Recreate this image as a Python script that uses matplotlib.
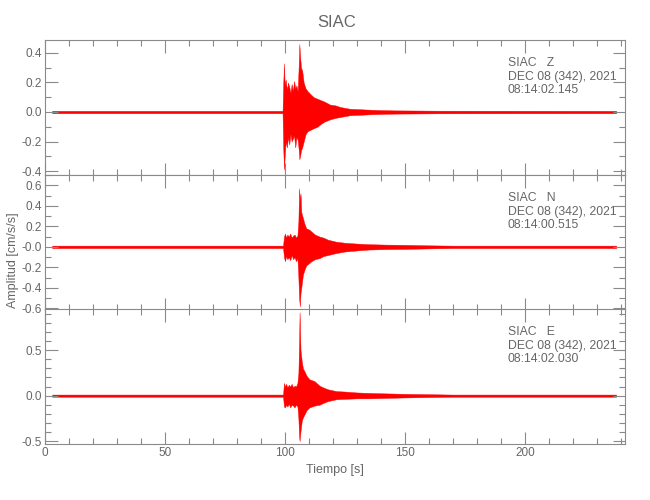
"""SIAC accelerogram, three components, redrawn from read-off envelopes."""

import matplotlib

matplotlib.use("Agg")
import matplotlib.pyplot as plt
from matplotlib.ticker import FixedFormatter, FixedLocator, MultipleLocator

plt.rcParams["font.family"] = ["Liberation Sans", "DejaVu Sans"]

STATION = "SIAC"
COMPONENTS = ["Z", "N", "E"]
DATE_LABEL = "DEC 08 (342), 2021"
START_TIMES = ["08:14:02.145", "08:14:00.515", "08:14:02.030"]
T_END = 241.7

# envelope of each trace (time in s, upper and lower amplitude in cm/s/s)
z_time = [3.0, 99.0, 99.3, 99.6, 99.9, 100.3, 100.8, 101.3, 101.8, 102.3, 102.8, 103.3, 103.8,
          104.3, 104.8, 105.3, 105.7, 106.0, 106.3, 106.7, 107.2, 107.8, 108.6, 109.5, 110.7,
          112.0, 113.5, 115.0, 116.5, 118.8, 121.0, 123.0, 127.0, 131.0, 135.0, 140.0, 146.0,
          155.0, 164.0, 238.0]
z_upper = [0.008, 0.008, 0.20, 0.33, 0.18, 0.22, 0.15, 0.20, 0.17, 0.13, 0.19, 0.14, 0.21,
           0.16, 0.18, 0.14, 0.30, 0.46, 0.38, 0.30, 0.28, 0.20, 0.16, 0.14, 0.12,
           0.10, 0.09, 0.08, 0.07, 0.05, 0.045, 0.034, 0.022, 0.019, 0.016, 0.013, 0.011,
           0.010, 0.009, 0.008]
z_lower = [-0.008, -0.008, -0.25, -0.39, -0.30, -0.20, -0.24, -0.17, -0.22, -0.15, -0.20, -0.18, -0.16,
           -0.24, -0.17, -0.19, -0.25, -0.32, -0.30, -0.26, -0.24, -0.20, -0.15, -0.13, -0.12,
           -0.11, -0.10, -0.08, -0.065, -0.05, -0.04, -0.034, -0.022, -0.019, -0.016, -0.013, -0.011,
           -0.010, -0.009, -0.008]

n_time = [3.0, 99.2, 99.6, 100.0, 100.5, 101.0, 101.6, 102.2, 102.8, 103.4, 104.0, 104.6, 105.2,
          105.6, 105.9, 106.2, 106.5, 106.8, 107.5, 108.2, 108.9, 110.0, 111.0, 112.5, 114.4,
          116.0, 117.9, 121.4, 125.0, 130.0, 135.0, 142.0, 150.0, 160.0, 170.0, 238.0]
n_upper = [0.012, 0.012, 0.10, 0.13, 0.09, 0.12, 0.10, 0.13, 0.09, 0.11, 0.12, 0.09, 0.11,
           0.25, 0.57, 0.45, 0.52, 0.34, 0.28, 0.22, 0.18, 0.17, 0.15, 0.12, 0.10,
           0.09, 0.07, 0.05, 0.04, 0.032, 0.026, 0.022, 0.02, 0.015, 0.012, 0.012]
n_lower = [-0.012, -0.012, -0.10, -0.14, -0.09, -0.12, -0.10, -0.13, -0.08, -0.12, -0.10, -0.14, -0.11,
           -0.30, -0.50, -0.58, -0.45, -0.40, -0.27, -0.22, -0.18, -0.16, -0.14, -0.12, -0.11,
           -0.09, -0.08, -0.06, -0.045, -0.035, -0.026, -0.022, -0.02, -0.015, -0.012, -0.012]

e_time = [3.0, 99.2, 99.6, 100.0, 100.5, 101.0, 101.6, 102.2, 102.8, 103.4, 104.0, 104.6, 105.2,
          105.6, 105.9, 106.1, 106.5, 107.0, 107.5, 108.1, 109.0, 110.2, 112.3, 114.4, 116.0,
          117.9, 121.4, 125.0, 130.0, 135.0, 142.0, 150.0, 160.0, 170.0, 238.0]
e_upper = [0.012, 0.012, 0.14, 0.10, 0.13, 0.09, 0.12, 0.10, 0.13, 0.09, 0.11, 0.10, 0.14,
           0.25, 0.60, 0.92, 0.50, 0.38, 0.30, 0.27, 0.22, 0.18, 0.16, 0.11, 0.09,
           0.07, 0.05, 0.045, 0.035, 0.03, 0.025, 0.02, 0.016, 0.012, 0.012]
e_lower = [-0.012, -0.012, -0.12, -0.13, -0.10, -0.12, -0.09, -0.13, -0.10, -0.11, -0.13, -0.10, -0.12,
           -0.25, -0.45, -0.50, -0.39, -0.28, -0.24, -0.21, -0.16, -0.13, -0.11, -0.10, -0.08,
           -0.06, -0.04, -0.035, -0.03, -0.03, -0.025, -0.02, -0.016, -0.012, -0.012]

y_limits = [(-0.427, 0.488), (-0.615, 0.70), (-0.533, 0.955)]
y_ticks = [[-0.4, -0.2, 0.0, 0.2, 0.4],
           [-0.6, -0.4, -0.2, 0.0, 0.2, 0.4, 0.6],
           [-0.5, 0.0, 0.5]]
y_ticklabels = [["-0.4", "-0.2", "0.0", "0.2", "0.4"],
                ["-0.6", "-0.4", "-0.2", "-0.0", "0.2", "0.4", "0.6"],
                ["-0.5", "0.0", "0.5"]]

traces = [(z_time, z_upper, z_lower), (n_time, n_upper, n_lower), (e_time, e_upper, e_lower)]

GREY = "#666666"
AXIS = "#8a8a8a"

fig = plt.figure(figsize=(6.5, 5.0), dpi=100)
panel_bottoms = [0.65, 0.38, 0.112]
axes = [fig.add_axes([0.0692, b, 0.8923, 0.27]) for b in panel_bottoms]

for i, ax in enumerate(axes):
    t, up, lo = traces[i]
    ax.fill_between(t, lo, up, color="red", linewidth=0.3, edgecolor="red")
    ax.set_xlim(0, T_END)
    ax.set_ylim(*y_limits[i])
    ax.yaxis.set_major_locator(FixedLocator(y_ticks[i]))
    ax.yaxis.set_major_formatter(FixedFormatter(y_ticklabels[i]))
    ax.yaxis.set_minor_locator(MultipleLocator(0.1))
    ax.xaxis.set_major_locator(MultipleLocator(50))
    ax.xaxis.set_minor_locator(MultipleLocator(10))
    ax.tick_params(which="both", direction="in", top=True, right=True, colors=AXIS,
                   labelcolor=GREY, labelsize=8.5, width=0.8, pad=2)
    ax.tick_params(which="major", length=9)
    ax.tick_params(which="minor", length=4.5)
    for spine in ax.spines.values():
        spine.set_color(AXIS)
        spine.set_linewidth(0.8)
    if i < 2:
        ax.tick_params(labelbottom=False)
    ax.text(0.798, 0.875, f"{STATION}   {COMPONENTS[i]}\n{DATE_LABEL}\n{START_TIMES[i]}",
            transform=ax.transAxes, ha="left", va="top", fontsize=8.8, color=GREY,
            linespacing=1.2)

axes[-1].set_xlabel("Tiempo [s]", fontsize=9, color=GREY, labelpad=4)
fig.text(0.02, 0.48, "Amplitud [cm/s/s]", rotation=90, ha="center", va="center",
         fontsize=9, color=GREY)
fig.text(0.518, 0.955, STATION, ha="center", va="center", fontsize=12, color=GREY)

fig.savefig("out.png", dpi=100)
